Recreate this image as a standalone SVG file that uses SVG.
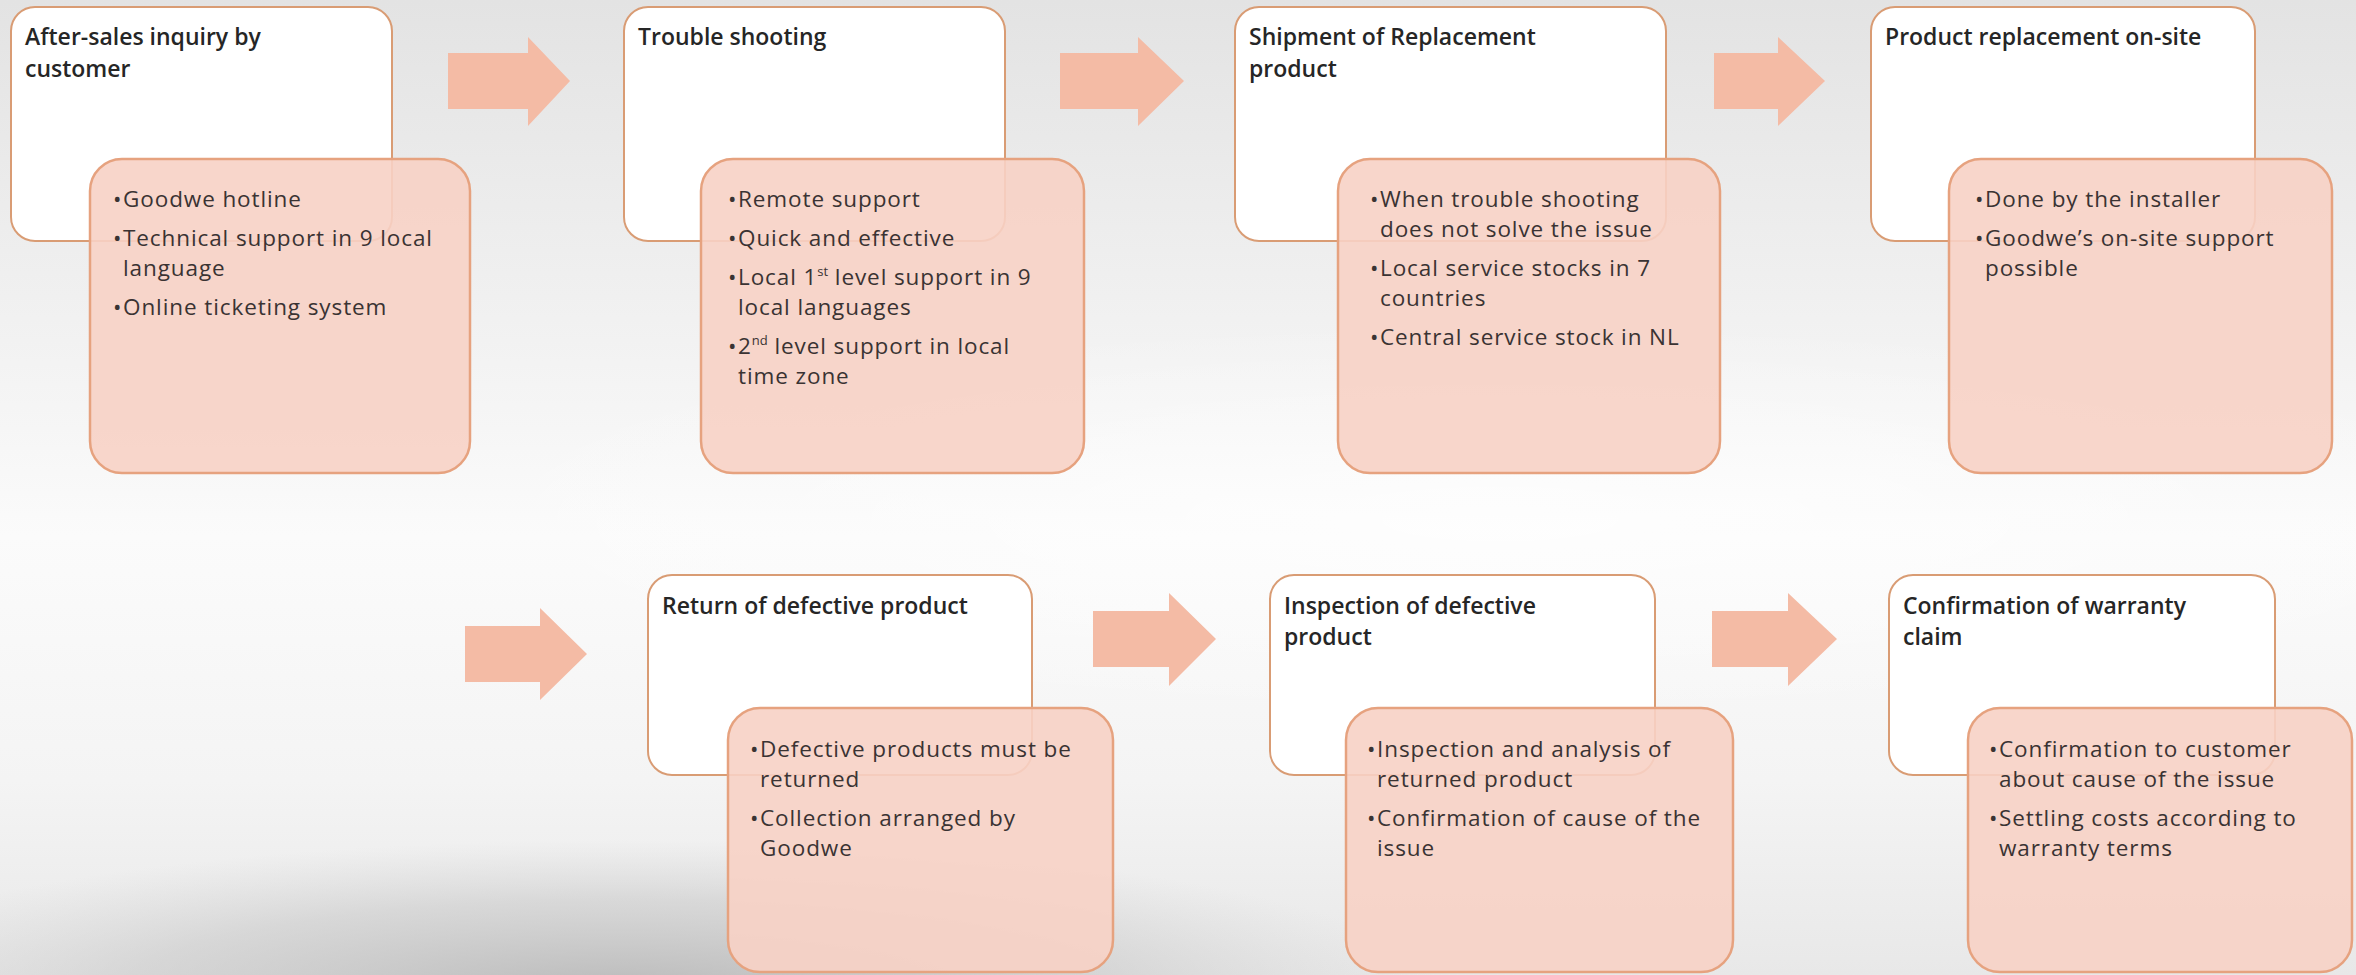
<svg xmlns="http://www.w3.org/2000/svg" width="2356" height="975" viewBox="0 0 2356 975">
  <defs>
    <linearGradient id="bgv" x1="0" y1="0" x2="0" y2="1">
      <stop offset="0" stop-color="#e3e3e3"/>
      <stop offset="0.35" stop-color="#f2f2f2"/>
      <stop offset="0.55" stop-color="#fbfbfb"/>
      <stop offset="0.8" stop-color="#f4f4f4"/>
      <stop offset="1" stop-color="#e8e8e8"/>
    </linearGradient>
    <radialGradient id="blob" cx="0.5" cy="0.5" r="0.5">
      <stop offset="0" stop-color="#b5b5b5" stop-opacity="0.9"/>
      <stop offset="0.6" stop-color="#c4c4c4" stop-opacity="0.5"/>
      <stop offset="1" stop-color="#d0d0d0" stop-opacity="0"/>
    </radialGradient>
    <radialGradient id="glow" cx="0.5" cy="0.5" r="0.5">
      <stop offset="0" stop-color="#ffffff" stop-opacity="0.7"/>
      <stop offset="1" stop-color="#ffffff" stop-opacity="0"/>
    </radialGradient>
    <style>
      .wbox { fill: #ffffff; stroke: #d99c74; stroke-width: 2; }
      .pbox { fill: #f7d2c5; fill-opacity: 0.9; stroke: #e6a27f; stroke-width: 2.5; }
      .arrow { fill: #f4bba5; }
      .title { font-family: "Open Sans", "Liberation Sans", sans-serif; font-size: 23px; font-weight: 600; fill: #262626; }
      .item { font-family: "Open Sans", "Liberation Sans", sans-serif; font-size: 22.5px; letter-spacing: 0.9px; fill: #3a3333; }
      .sup { font-size: 13px; letter-spacing: 0; }
    </style>
  </defs>

  <rect x="0" y="0" width="2356" height="975" fill="url(#bgv)"/>
  <ellipse cx="1500" cy="520" rx="1100" ry="200" fill="url(#glow)"/>
  <ellipse cx="620" cy="990" rx="820" ry="150" fill="url(#blob)"/>

  <g id="connectors">
    <polygon class="arrow" points="448,53 528,53 528,37 570,81 528,126 528,109 448,109"/>
    <polygon class="arrow" points="1060,53 1138,53 1138,37 1184,81 1138,126 1138,109 1060,109"/>
    <polygon class="arrow" points="1714,53 1778,53 1778,37 1825,81 1778,126 1778,109 1714,109"/>
    <polygon class="arrow" points="465,626 540,626 540,608 587,654 540,700 540,682 465,682"/>
    <polygon class="arrow" points="1093,611 1169,611 1169,593 1216,639 1169,686 1169,667 1093,667"/>
    <polygon class="arrow" points="1712,611 1788,611 1788,593 1837,639 1788,686 1788,667 1712,667"/>
  </g>

  <g id="node1">
    <rect class="wbox" x="11" y="7" width="381" height="234" rx="24"/>
    <text class="title" x="25" y="45">After-sales inquiry by</text>
    <text class="title" x="25" y="77">customer</text>
    <rect class="pbox" x="90" y="159" width="380" height="314" rx="32"/>
    <text class="item" x="113" y="207">•</text><text class="item" x="123" y="207">Goodwe hotline</text>
    <text class="item" x="113" y="246">•</text><text class="item" x="123" y="246">Technical support in 9 local</text>
    <text class="item" x="123" y="276">language</text>
    <text class="item" x="113" y="315">•</text><text class="item" x="123" y="315">Online ticketing system</text>
  </g>

  <g id="node2">
    <rect class="wbox" x="624" y="7" width="381" height="234" rx="24"/>
    <text class="title" x="638" y="45">Trouble shooting</text>
    <rect class="pbox" x="701" y="159" width="383" height="314" rx="32"/>
    <text class="item" x="728" y="207">•</text><text class="item" x="738" y="207">Remote support</text>
    <text class="item" x="728" y="246">•</text><text class="item" x="738" y="246">Quick and effective</text>
    <text class="item" x="728" y="285">•</text><text class="item" x="738" y="285">Local 1<tspan class="sup" baseline-shift="super">st</tspan> level support in 9</text>
    <text class="item" x="738" y="315">local languages</text>
    <text class="item" x="728" y="354">•</text><text class="item" x="738" y="354">2<tspan class="sup" baseline-shift="super">nd</tspan> level support in local</text>
    <text class="item" x="738" y="384">time zone</text>
  </g>

  <g id="node3">
    <rect class="wbox" x="1235" y="7" width="431" height="234" rx="24"/>
    <text class="title" x="1249" y="45">Shipment of Replacement</text>
    <text class="title" x="1249" y="77">product</text>
    <rect class="pbox" x="1338" y="159" width="382" height="314" rx="32"/>
    <text class="item" x="1370" y="207">•</text><text class="item" x="1380" y="207">When trouble shooting</text>
    <text class="item" x="1380" y="237">does not solve the issue</text>
    <text class="item" x="1370" y="276">•</text><text class="item" x="1380" y="276">Local service stocks in 7</text>
    <text class="item" x="1380" y="306">countries</text>
    <text class="item" x="1370" y="345">•</text><text class="item" x="1380" y="345">Central service stock in NL</text>
  </g>

  <g id="node4">
    <rect class="wbox" x="1871" y="7" width="384" height="234" rx="24"/>
    <text class="title" x="1885" y="45">Product replacement on-site</text>
    <rect class="pbox" x="1949" y="159" width="383" height="314" rx="32"/>
    <text class="item" x="1975" y="207">•</text><text class="item" x="1985" y="207">Done by the installer</text>
    <text class="item" x="1975" y="246">•</text><text class="item" x="1985" y="246">Goodwe’s on-site support</text>
    <text class="item" x="1985" y="276">possible</text>
  </g>

  <g id="node5">
    <rect class="wbox" x="648" y="575" width="384" height="200" rx="24"/>
    <text class="title" x="662" y="614">Return of defective product</text>
    <rect class="pbox" x="728" y="708" width="385" height="264" rx="32"/>
    <text class="item" x="750" y="757">•</text><text class="item" x="760" y="757">Defective products must be</text>
    <text class="item" x="760" y="787">returned</text>
    <text class="item" x="750" y="826">•</text><text class="item" x="760" y="826">Collection arranged by</text>
    <text class="item" x="760" y="856">Goodwe</text>
  </g>

  <g id="node6">
    <rect class="wbox" x="1270" y="575" width="385" height="200" rx="24"/>
    <text class="title" x="1284" y="614">Inspection of defective</text>
    <text class="title" x="1284" y="645">product</text>
    <rect class="pbox" x="1346" y="708" width="387" height="264" rx="32"/>
    <text class="item" x="1367" y="757">•</text><text class="item" x="1377" y="757">Inspection and analysis of</text>
    <text class="item" x="1377" y="787">returned product</text>
    <text class="item" x="1367" y="826">•</text><text class="item" x="1377" y="826">Confirmation of cause of the</text>
    <text class="item" x="1377" y="856">issue</text>
  </g>

  <g id="node7">
    <rect class="wbox" x="1889" y="575" width="386" height="200" rx="24"/>
    <text class="title" x="1903" y="614">Confirmation of warranty</text>
    <text class="title" x="1903" y="645">claim</text>
    <rect class="pbox" x="1968" y="708" width="384" height="264" rx="32"/>
    <text class="item" x="1989" y="757">•</text><text class="item" x="1999" y="757">Confirmation to customer</text>
    <text class="item" x="1999" y="787">about cause of the issue</text>
    <text class="item" x="1989" y="826">•</text><text class="item" x="1999" y="826">Settling costs according to</text>
    <text class="item" x="1999" y="856">warranty terms</text>
  </g>
</svg>
